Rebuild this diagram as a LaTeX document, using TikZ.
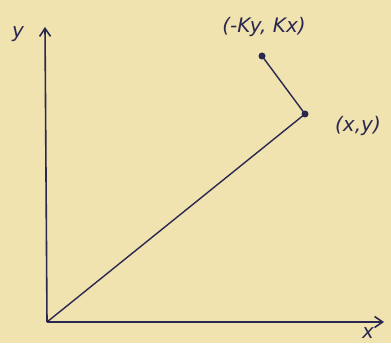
\documentclass[tikz,border=0pt]{standalone}
\usepackage{fontspec}
\setmainfont{DejaVu Sans}
\usetikzlibrary{arrows.meta}
\definecolor{paper}{HTML}{F1E3AF}
\definecolor{ink}{HTML}{2A2850}
\tikzset{
  axis/.style={draw=ink, line width=1.6pt, -{Straight Barb[length=8pt,width=11pt,line width=1.6pt]}},
  seg/.style={draw=ink, line width=1.4pt},
  dot/.style={circle, fill=ink, inner sep=0pt, minimum size=7pt},
  lbl/.style={text=ink, font=\fontsize{20}{22}\selectfont\itshape},
}
\begin{document}
\begin{tikzpicture}[x=1pt,y=1pt]
\fill[paper] (0,0) rectangle (391,343);
\useasboundingbox (0,0) rectangle (391,343);
\coordinate (O) at (47,21);
\coordinate (ytop) at (45,316);
\coordinate (xend) at (384,21);
\node[dot] (P) at (305,229) {};
\node[dot] (Q) at (262,287) {};
\draw[axis] (O) -- (ytop);
\draw[axis] (O) -- (xend);
\draw[seg] (O) -- (P.center);
\draw[seg] (P.center) -- (Q.center);
\node[lbl] (ly) at (18,309) {y};
\node[lbl] (lx) at (368,10) {x};
\node[lbl] (lQ) at (264,316) {(-Ky, Kx)};
\node[lbl] (lP) at (358,217) {(x,y)};
\end{tikzpicture}
\end{document}
